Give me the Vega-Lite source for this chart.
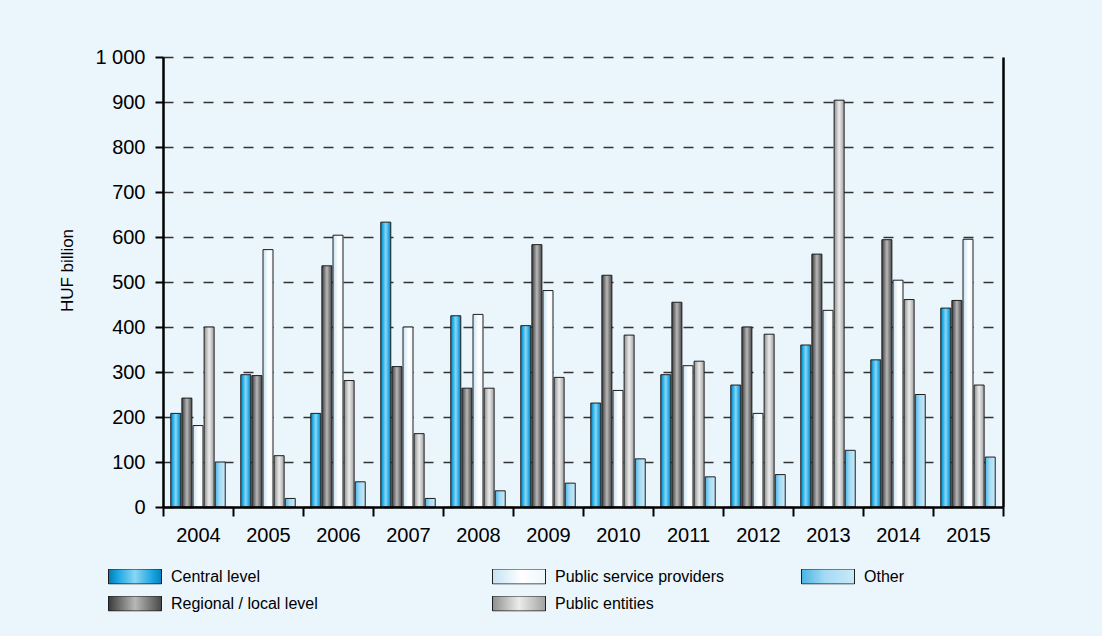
{
  "$schema": "https://vega.github.io/schema/vega-lite/v6.json",
  "width": 840,
  "height": 450,
  "autosize": {"type": "none"},
  "padding": {"left": 163, "top": 57, "right": 99, "bottom": 129},
  "background": "#eaf5fc",
  "config": {
    "font": "Liberation Sans",
    "view": {"stroke": null},
    "legend": {
      "direction": "vertical",
      "symbolType": "M-1,-0.283H1V0.283H-1Z",
      "symbolSize": 2809,
      "clipHeight": 15,
      "rowPadding": 10,
      "labelOffset": 9,
      "labelFontSize": 16,
      "labelColor": "#000000",
      "labelLimit": 400,
      "symbolStrokeColor": "#1e1e1e",
      "symbolStrokeWidth": 1,
      "padding": 0
    }
  },
  "data": {
    "values": [
      {"year": "2004", "series": "Central level", "value": 208},
      {"year": "2005", "series": "Central level", "value": 294},
      {"year": "2006", "series": "Central level", "value": 208},
      {"year": "2007", "series": "Central level", "value": 633},
      {"year": "2008", "series": "Central level", "value": 425},
      {"year": "2009", "series": "Central level", "value": 403},
      {"year": "2010", "series": "Central level", "value": 231},
      {"year": "2011", "series": "Central level", "value": 294},
      {"year": "2012", "series": "Central level", "value": 271},
      {"year": "2013", "series": "Central level", "value": 360},
      {"year": "2014", "series": "Central level", "value": 327},
      {"year": "2015", "series": "Central level", "value": 442},
      {"year": "2004", "series": "Regional / local level", "value": 242},
      {"year": "2005", "series": "Regional / local level", "value": 292},
      {"year": "2006", "series": "Regional / local level", "value": 536},
      {"year": "2007", "series": "Regional / local level", "value": 312},
      {"year": "2008", "series": "Regional / local level", "value": 264},
      {"year": "2009", "series": "Regional / local level", "value": 583},
      {"year": "2010", "series": "Regional / local level", "value": 515},
      {"year": "2011", "series": "Regional / local level", "value": 455},
      {"year": "2012", "series": "Regional / local level", "value": 400},
      {"year": "2013", "series": "Regional / local level", "value": 562},
      {"year": "2014", "series": "Regional / local level", "value": 594},
      {"year": "2015", "series": "Regional / local level", "value": 459},
      {"year": "2004", "series": "Public service providers", "value": 181},
      {"year": "2005", "series": "Public service providers", "value": 572},
      {"year": "2006", "series": "Public service providers", "value": 604},
      {"year": "2007", "series": "Public service providers", "value": 400},
      {"year": "2008", "series": "Public service providers", "value": 428},
      {"year": "2009", "series": "Public service providers", "value": 481},
      {"year": "2010", "series": "Public service providers", "value": 259},
      {"year": "2011", "series": "Public service providers", "value": 314},
      {"year": "2012", "series": "Public service providers", "value": 208},
      {"year": "2013", "series": "Public service providers", "value": 437},
      {"year": "2014", "series": "Public service providers", "value": 504},
      {"year": "2015", "series": "Public service providers", "value": 595},
      {"year": "2004", "series": "Public entities", "value": 400},
      {"year": "2005", "series": "Public entities", "value": 114},
      {"year": "2006", "series": "Public entities", "value": 281},
      {"year": "2007", "series": "Public entities", "value": 163},
      {"year": "2008", "series": "Public entities", "value": 264},
      {"year": "2009", "series": "Public entities", "value": 288},
      {"year": "2010", "series": "Public entities", "value": 382},
      {"year": "2011", "series": "Public entities", "value": 324},
      {"year": "2012", "series": "Public entities", "value": 384},
      {"year": "2013", "series": "Public entities", "value": 904},
      {"year": "2014", "series": "Public entities", "value": 461},
      {"year": "2015", "series": "Public entities", "value": 271},
      {"year": "2004", "series": "Other", "value": 100},
      {"year": "2005", "series": "Other", "value": 19},
      {"year": "2006", "series": "Other", "value": 56},
      {"year": "2007", "series": "Other", "value": 19},
      {"year": "2008", "series": "Other", "value": 36},
      {"year": "2009", "series": "Other", "value": 53},
      {"year": "2010", "series": "Other", "value": 107},
      {"year": "2011", "series": "Other", "value": 67},
      {"year": "2012", "series": "Other", "value": 72},
      {"year": "2013", "series": "Other", "value": 126},
      {"year": "2014", "series": "Other", "value": 250},
      {"year": "2015", "series": "Other", "value": 111}
    ]
  },
  "encoding": {
    "x": {
      "field": "year",
      "type": "nominal",
      "scale": {"paddingInner": 0, "paddingOuter": 0},
      "axis": {
        "title": null,
        "tickBand": "extent",
        "labelAngle": 0,
        "labelFontSize": 20,
        "labelColor": "#000000",
        "labelPadding": 9,
        "tickSize": 9,
        "tickWidth": 2,
        "tickColor": "#000000",
        "domainColor": "#000000",
        "domainWidth": 2.5,
        "zindex": 1
      }
    },
    "xOffset": {
      "field": "series",
      "type": "nominal",
      "scale": {
        "domain": ["Central level", "Regional / local level", "Public service providers", "Public entities", "Other"],
        "paddingInner": 0.1,
        "paddingOuter": 0.7
      }
    }
  },
  "layer": [
    {
      "transform": [{"filter": {"field": "series", "oneOf": ["Central level", "Regional / local level"]}}],
      "mark": {"type": "bar", "stroke": "#1e1e1e", "strokeWidth": 1},
      "encoding": {
        "y": {
          "field": "value",
          "type": "quantitative",
          "scale": {"domain": [0, 1000], "nice": false},
          "axis": {
            "orient": "left",
            "values": [0, 100, 200, 300, 400, 500, 600, 700, 800, 900, 1000],
            "labelExpr": "replace(format(datum.value, ','), ',', ' ')",
            "labelFontSize": 20,
            "labelColor": "#000000",
            "labelPadding": 10,
            "tickSize": 8,
            "tickWidth": 2,
            "tickColor": "#000000",
            "domainColor": "#000000",
            "domainWidth": 2.5,
            "grid": true,
            "gridColor": "#333333",
            "gridDash": [10, 10],
            "gridWidth": 1.3,
            "title": "HUF billion",
            "titleFontSize": 17,
            "titleFontWeight": "normal",
            "titleColor": "#000000",
            "titlePadding": 18,
            "titleY": 213,
            "zindex": 0
          }
        },
        "color": {
          "field": "series",
          "type": "nominal",
          "scale": {
            "domain": ["Central level", "Regional / local level"],
            "range": [
              {"expr": "{gradient: 'linear', x1: 0, y1: 0, x2: 1, y2: 0, stops: [{offset: 0, color: '#0a78b0'}, {offset: 0.15, color: '#13a2de'}, {offset: 0.5, color: '#8ad6f5'}, {offset: 0.85, color: '#13a2de'}, {offset: 1, color: '#0a80bb'}]}"},
              {"expr": "{gradient: 'linear', x1: 0, y1: 0, x2: 1, y2: 0, stops: [{offset: 0, color: '#3a3a3a'}, {offset: 0.5, color: '#b8b8b8'}, {offset: 1, color: '#484848'}]}"}
            ]
          },
          "legend": {"title": null, "orient": "none", "legendX": -55, "legendY": 512}
        }
      }
    },
    {
      "transform": [{"filter": {"field": "series", "oneOf": ["Public service providers", "Public entities"]}}],
      "mark": {"type": "bar", "stroke": "#1e1e1e", "strokeWidth": 1},
      "encoding": {
        "y": {
          "field": "value",
          "type": "quantitative",
          "scale": {"domain": [0, 1000], "nice": false},
          "axis": null
        },
        "color": {
          "field": "series",
          "type": "nominal",
          "scale": {
            "domain": ["Public service providers", "Public entities"],
            "range": [
              {"expr": "{gradient: 'linear', x1: 0, y1: 0, x2: 1, y2: 0, stops: [{offset: 0, color: '#c4e3f4'}, {offset: 0.55, color: '#ffffff'}, {offset: 1, color: '#eef7fc'}]}"},
              {"expr": "{gradient: 'linear', x1: 0, y1: 0, x2: 1, y2: 0, stops: [{offset: 0, color: '#8e8e8e'}, {offset: 0.5, color: '#ececec'}, {offset: 1, color: '#a2a2a2'}]}"}
            ]
          },
          "legend": {"title": null, "orient": "none", "legendX": 329, "legendY": 512}
        }
      }
    },
    {
      "transform": [{"filter": {"field": "series", "equal": "Other"}}],
      "mark": {"type": "bar", "stroke": "#1e1e1e", "strokeWidth": 1},
      "encoding": {
        "y": {
          "field": "value",
          "type": "quantitative",
          "scale": {"domain": [0, 1000], "nice": false},
          "axis": {
            "orient": "right",
            "labels": false,
            "ticks": false,
            "grid": false,
            "title": null,
            "domainColor": "#000000",
            "domainWidth": 2.5
          }
        },
        "color": {
          "field": "series",
          "type": "nominal",
          "scale": {
            "domain": ["Other"],
            "range": [
              {"expr": "{gradient: 'linear', x1: 0, y1: 0, x2: 1, y2: 0, stops: [{offset: 0, color: '#4ab4e5'}, {offset: 0.45, color: '#a6dbf4'}, {offset: 1, color: '#c8eaf9'}]}"}
            ]
          },
          "legend": {"title": null, "orient": "none", "legendX": 638, "legendY": 512}
        }
      }
    }
  ],
  "resolve": {"scale": {"color": "independent"}, "axis": {"y": "independent"}}
}
